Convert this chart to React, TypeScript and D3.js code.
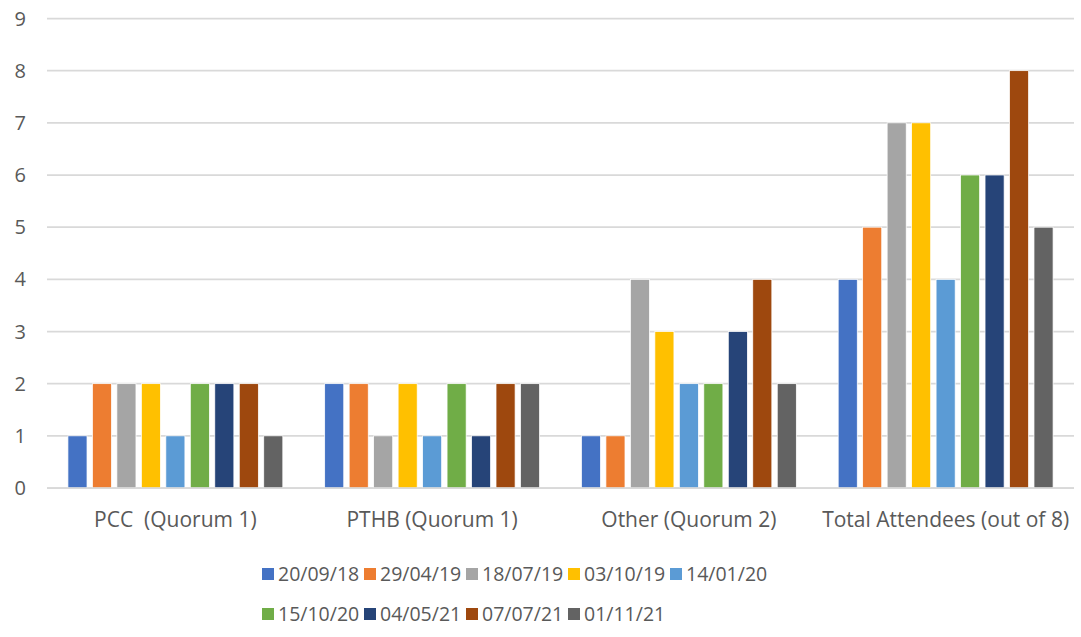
import React, { useEffect, useRef } from 'react';
import * as d3 from 'd3';

const categories = ['PCC  (Quorum 1)', 'PTHB (Quorum 1)', 'Other (Quorum 2)', 'Total Attendees (out of 8)'];
const meetings = ['20/09/18', '29/04/19', '18/07/19', '03/10/19', '14/01/20', '15/10/20', '04/05/21', '07/07/21', '01/11/21'];
const colors = ['#4472C4', '#ED7D31', '#A5A5A5', '#FFC000', '#5B9BD5', '#70AD47', '#264478', '#9E480E', '#636363'];

// one array per category, one value per meeting
const pcc = [1, 2, 2, 2, 1, 2, 2, 2, 1];
const pthb = [2, 2, 1, 2, 1, 2, 1, 2, 2];
const other = [1, 1, 4, 3, 2, 2, 3, 4, 2];
const total = [4, 5, 7, 7, 4, 6, 6, 8, 5];
const yTicks = [0, 1, 2, 3, 4, 5, 6, 7, 8, 9];

const App = () => {
  const svgRef = useRef<SVGSVGElement>(null);

  useEffect(() => {
    const width = 1081;
    const height = 637;
    const left = 47;
    const right = 1074;
    const top = 18.5;
    const bottom = 488;
    const font = '"Open Sans", sans-serif';

    svgRef.current!.innerHTML = '';
    const svg = d3.select(svgRef.current).attr('width', width).attr('height', height);

    const byCat = [pcc, pthb, other, total];

    const x0 = d3.scaleBand().domain(categories).range([left, right]).paddingInner(0.163).paddingOuter(0.0815);
    const x1 = d3.scaleBand().domain(meetings).range([0, x0.bandwidth()]).paddingInner(0.22);
    const y = d3.scaleLinear().domain([0, 9]).range([bottom, top]);

    // gridlines
    svg.append('g')
      .selectAll('line')
      .data(yTicks)
      .enter().append('line')
      .attr('x1', left)
      .attr('x2', right)
      .attr('y1', d => y(d))
      .attr('y2', d => y(d))
      .attr('stroke', '#d9d9d9')
      .attr('stroke-width', 1.75);

    // y labels
    svg.append('g')
      .selectAll('text')
      .data(yTicks)
      .enter().append('text')
      .attr('x', 26)
      .attr('y', d => y(d))
      .attr('dy', '0.35em')
      .attr('text-anchor', 'end')
      .attr('font-family', font)
      .attr('font-size', 20)
      .attr('fill', '#595959')
      .text(d => d);

    // bars
    svg.append('g')
      .selectAll('g')
      .data(categories)
      .enter().append('g')
      .attr('transform', c => `translate(${x0(c)},0)`)
      .selectAll('rect')
      .data((c, ci) => meetings.map((m, mi) => ({ m, mi, v: byCat[ci][mi] })))
      .enter().append('rect')
      .attr('x', d => x1(d.m)!)
      .attr('y', d => y(d.v))
      .attr('width', x1.bandwidth())
      .attr('height', d => y(0) - y(d.v))
      .attr('fill', d => colors[d.mi])
      .attr('stroke', '#fff')
      .attr('stroke-width', 0.75);

    // baseline
    svg.append('line')
      .attr('x1', left).attr('x2', right)
      .attr('y1', y(0)).attr('y2', y(0))
      .attr('stroke', '#d9d9d9')
      .attr('stroke-width', 1.75);

    // category labels
    svg.append('g')
      .selectAll('text')
      .data(categories)
      .enter().append('text')
      .attr('x', c => x0(c)! + x0.bandwidth() / 2)
      .attr('y', 520)
      .attr('dy', '0.35em')
      .attr('text-anchor', 'middle')
      .attr('font-family', font)
      .attr('font-size', 21)
      .attr('fill', '#595959')
      .style('white-space', 'pre')
      .text(c => c);

    // legend
    const legend = svg.append('g');
    const perRow = 5;
    const stepX = 102;
    meetings.forEach((m, i) => {
      const row = Math.floor(i / perRow);
      const col = i % perRow;
      const gx = 262 + col * stepX;
      const gy = 574 + row * 40;
      legend.append('rect')
        .attr('x', gx)
        .attr('y', gy - 6)
        .attr('width', 12)
        .attr('height', 12)
        .attr('fill', colors[i]);
      legend.append('text')
        .attr('x', gx + 16)
        .attr('y', gy)
        .attr('dy', '0.35em')
        .attr('font-family', font)
        .attr('font-size', 19.5)
        .attr('fill', '#595959')
        .text(m);
    });
  }, []);

  return <svg ref={svgRef} style={{ position: 'absolute', left: 0, top: 0 }}></svg>;
};

export default App;
